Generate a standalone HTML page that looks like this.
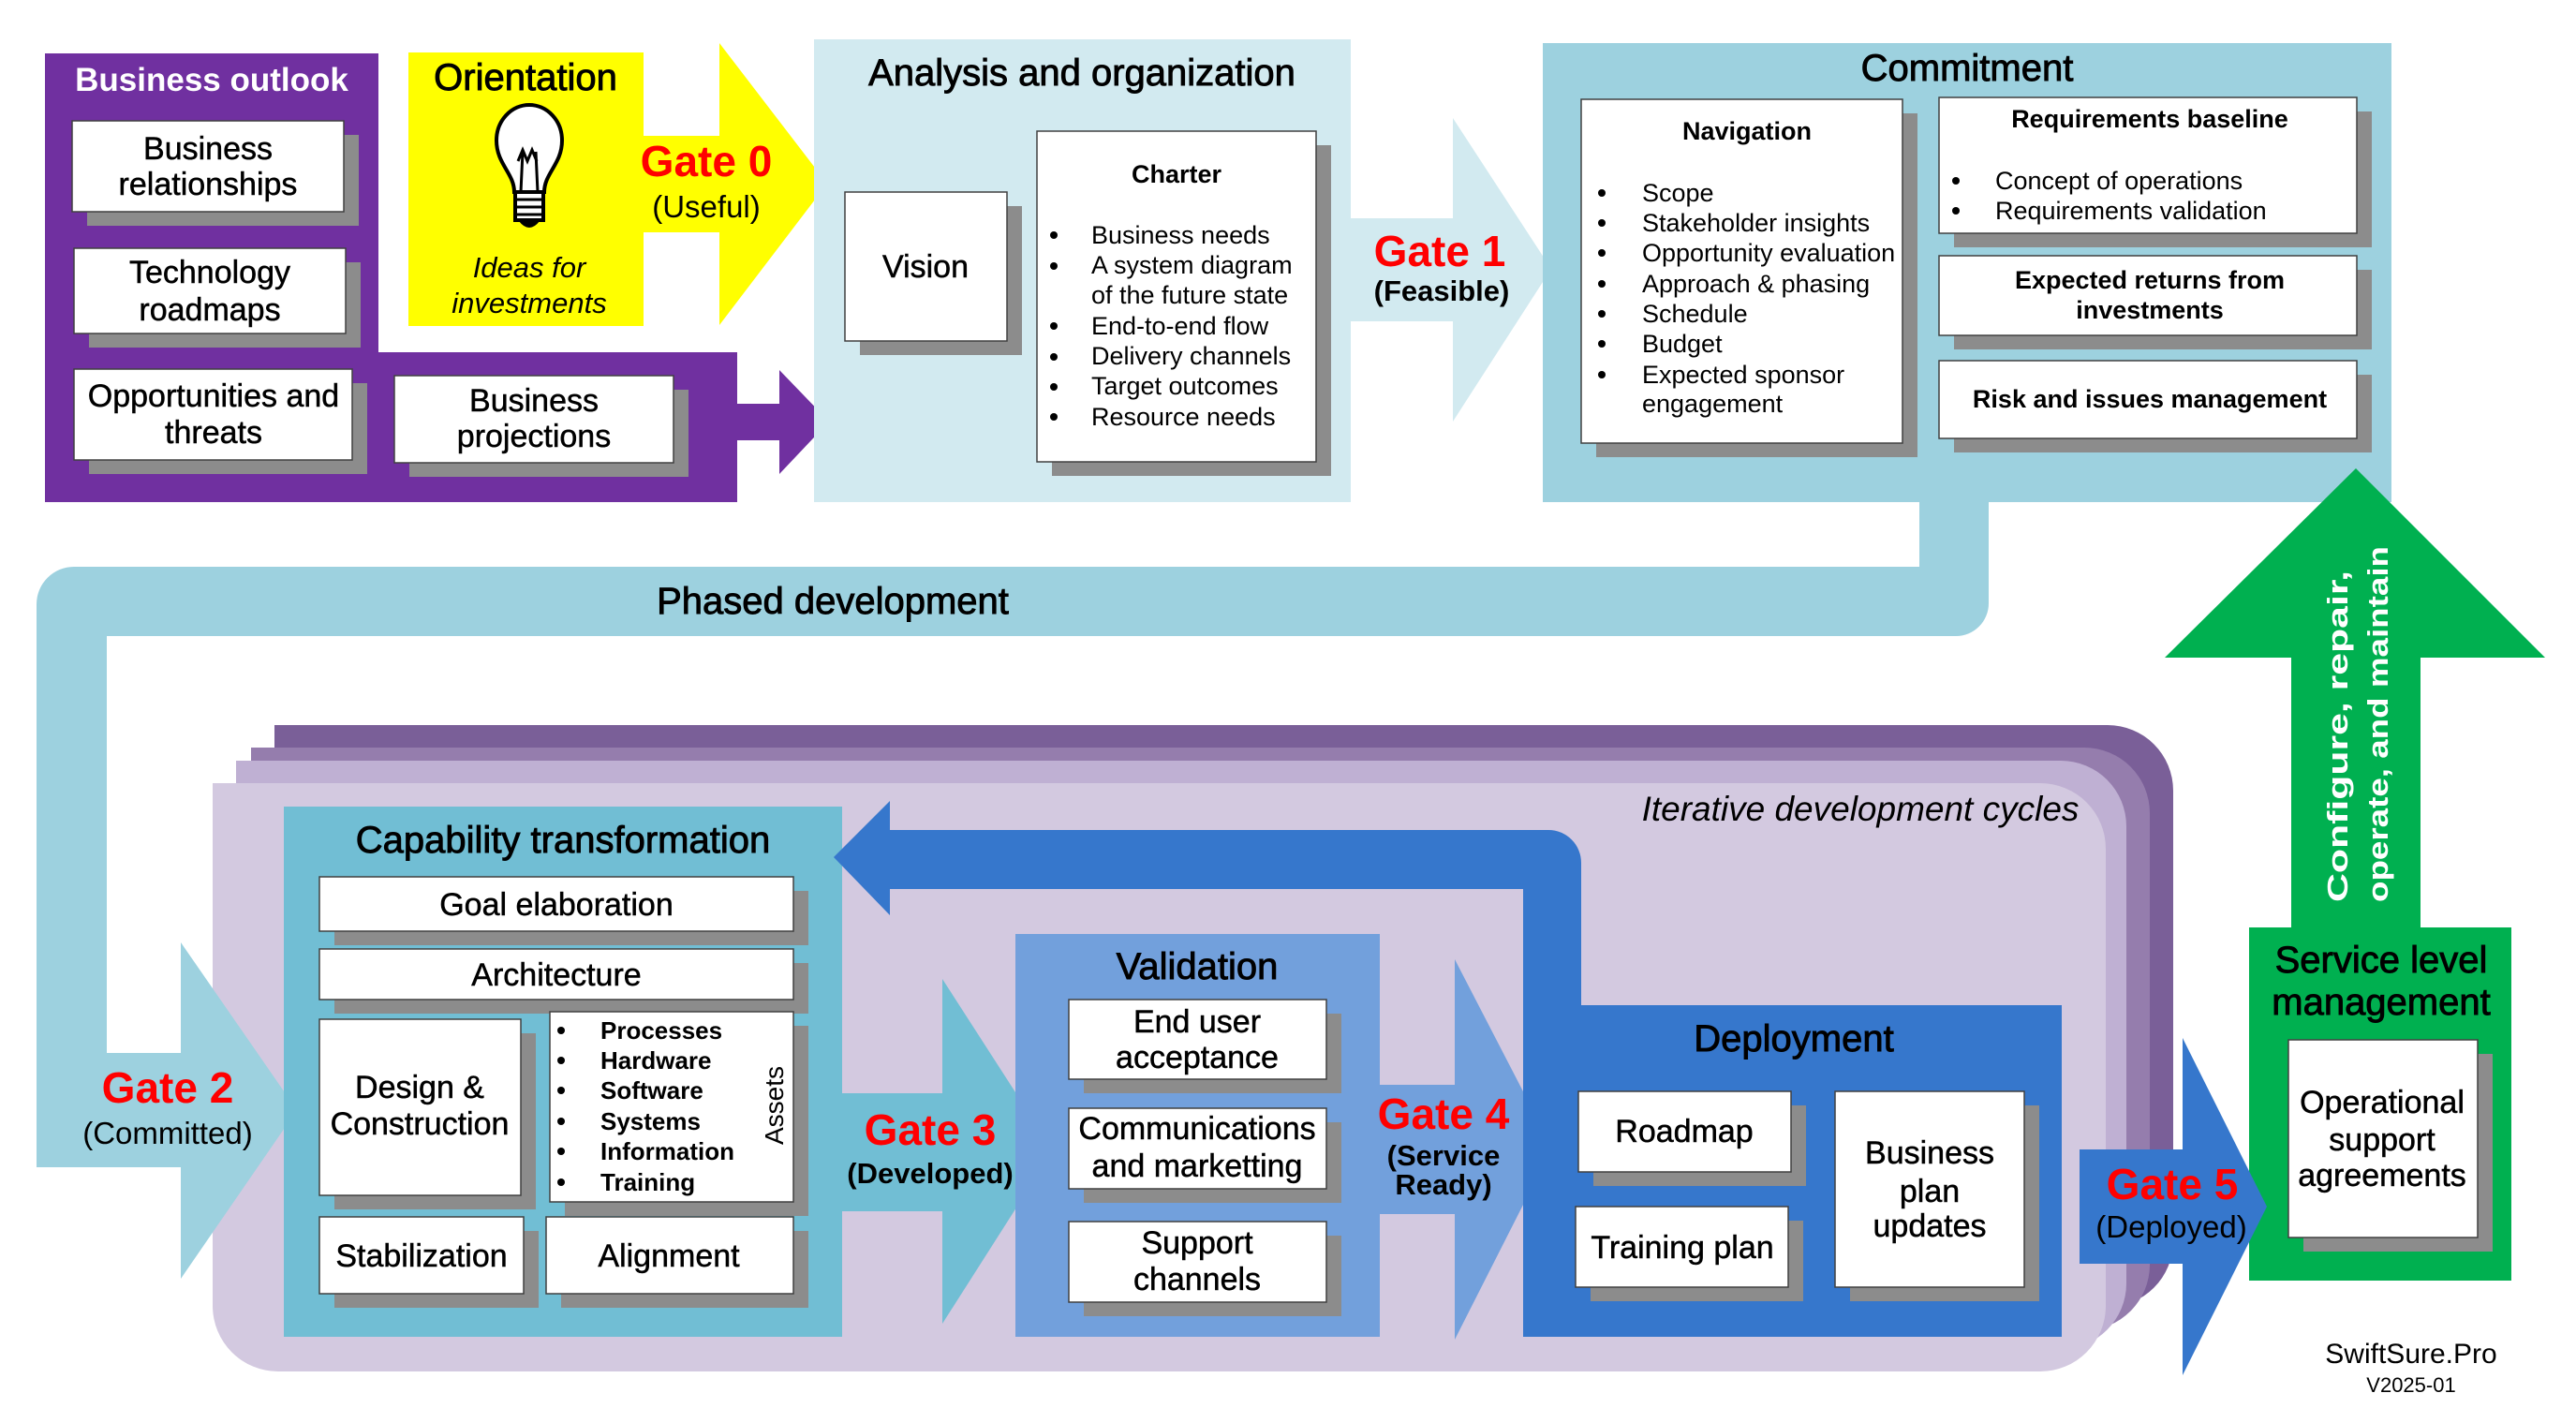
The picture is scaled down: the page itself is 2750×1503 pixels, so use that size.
<!DOCTYPE html>
<html><head><meta charset="utf-8"><style>
html,body{margin:0;padding:0;background:#fff;}
svg{display:block;}
text{font-family:"Liberation Sans",Arial,sans-serif;}
.t{font-size:34px;fill:#000;stroke:#000;stroke-width:0.5px;}
.ti{font-size:40px;fill:#000;stroke:#000;stroke-width:0.9px;}
.b{font-size:27px;fill:#000;}
.bb{font-size:27px;font-weight:bold;fill:#000;}
.g{font-size:46px;font-weight:bold;fill:#ff0000;}
.gs{font-size:33px;fill:#000;}
.gsb{font-size:31px;font-weight:bold;fill:#000;}
.sh{fill:#8c8c8c;}
.bx{fill:#fff;stroke:#404040;stroke-width:1.5;}
</style></head><body>
<svg width="2750" height="1503" viewBox="0 0 2750 1503" xmlns="http://www.w3.org/2000/svg">
<!-- Purple stack -->
<path d="M293,774 H2250 A70 70 0 0 1 2320,844 V1325 A70 70 0 0 1 2250,1395 H363 A70 70 0 0 1 293,1325 Z" fill="#7a5f98"/>
<path d="M268,798 H2225 A70 70 0 0 1 2295,868 V1350 A70 70 0 0 1 2225,1420 H338 A70 70 0 0 1 268,1350 Z" fill="#957dad"/>
<path d="M252,812 H2200 A70 70 0 0 1 2270,882 V1370 A70 70 0 0 1 2200,1440 H322 A70 70 0 0 1 252,1370 Z" fill="#bfb0d3"/>
<path d="M227,836 H2178 A70 70 0 0 1 2248,906 V1394 A70 70 0 0 1 2178,1464 H297 A70 70 0 0 1 227,1394 Z" fill="#d3c9e0"/>
<text x="1986" y="876" font-size="37" font-style="italic" text-anchor="middle" fill="#000">Iterative development cycles</text>

<!-- Phased development connector + Gate 2 -->
<path d="M2123,536 V644 A35 35 0 0 1 2088,679 H114 V1124 H193 V1006 L317,1185 L193,1365 V1246 H39 V645 A40 40 0 0 1 79,605 H2049 V536 Z" fill="#9dd1df"/>
<text class="ti" x="889" y="655" text-anchor="middle" font-size="39">Phased development</text>
<text class="g" x="179" y="1177" text-anchor="middle">Gate 2</text>
<text class="gs" x="179" y="1221" text-anchor="middle">(Committed)</text>

<!-- Business outlook -->
<path d="M48,57 H404 V376 H787 V536 H48 Z" fill="#7030a0"/>
<polygon points="787,431 832,431 832,395 885,450 832,506 832,470 787,470" fill="#7030a0"/>
<text x="226" y="97" font-size="35" font-weight="bold" fill="#fff" text-anchor="middle">Business outlook</text>
<rect class="sh" x="93" y="144" width="290" height="97"/><rect class="bx" x="77" y="129" width="290" height="97"/>
<text class="t" x="222" y="170" text-anchor="middle">Business</text><text class="t" x="222" y="208" text-anchor="middle">relationships</text>
<rect class="sh" x="95" y="280" width="290" height="91"/><rect class="bx" x="79" y="265" width="290" height="91"/>
<text class="t" x="224" y="302" text-anchor="middle">Technology</text><text class="t" x="224" y="342" text-anchor="middle">roadmaps</text>
<rect class="sh" x="95" y="409" width="297" height="97"/><rect class="bx" x="79" y="394" width="297" height="97"/>
<text class="t" x="228" y="434" text-anchor="middle">Opportunities and</text><text class="t" x="228" y="473" text-anchor="middle">threats</text>
<rect class="sh" x="437" y="416" width="298" height="93"/><rect class="bx" x="421" y="401" width="298" height="93"/>
<text class="t" x="570" y="439" text-anchor="middle">Business</text><text class="t" x="570" y="477" text-anchor="middle">projections</text>

<!-- Orientation -->
<rect x="436" y="56" width="251" height="292" fill="#ffff00"/>
<polygon points="687,145 768,145 768,46 883,196 768,347 768,248 687,248" fill="#ffff00"/>
<text class="ti" x="561" y="96" text-anchor="middle">Orientation</text>
<path d="M549,205 C549,185 530,175 530,150 A35 38 0 1 1 600,150 C600,175 581,185 581,205 Z" fill="#fff" stroke="#000" stroke-width="4"/>
<path d="M553,172 L558,160 L563,172 L568,160 L573,172 M558,162 L556,205 M572,162 L574,205" fill="none" stroke="#000" stroke-width="3"/>
<rect x="550" y="205" width="30" height="30" fill="#fff" stroke="#000" stroke-width="4"/>
<path d="M550,213 H580 M550,221 H580 M550,229 H580" stroke="#000" stroke-width="3"/>
<path d="M555,235 Q565,248 575,235" fill="#000" stroke="#000" stroke-width="3"/>
<text x="565" y="296" font-size="31" font-style="italic" text-anchor="middle">Ideas for</text>
<text x="565" y="334" font-size="31" font-style="italic" text-anchor="middle">investments</text>
<text class="g" x="754" y="188" text-anchor="middle">Gate 0</text>
<text class="gs" x="754" y="232" text-anchor="middle">(Useful)</text>

<!-- Analysis -->
<rect x="869" y="42" width="573" height="494" fill="#d2eaf0"/>
<polygon points="1442,233 1551,233 1551,126 1656,287 1551,450 1551,343 1442,343" fill="#d2eaf0"/>
<text class="ti" x="1155" y="91" text-anchor="middle">Analysis and organization</text>
<rect class="sh" x="918" y="220" width="173" height="159"/><rect class="bx" x="902" y="205" width="173" height="159"/>
<text class="t" x="988" y="296" text-anchor="middle">Vision</text>
<rect class="sh" x="1123" y="155" width="298" height="353"/><rect class="bx" x="1107" y="140" width="298" height="353"/>
<text class="bb" x="1256" y="195" text-anchor="middle">Charter</text>
<g class="b">
<text x="1165" y="260">Business needs</text><text x="1165" y="292">A system diagram</text><text x="1165" y="324">of the future state</text>
<text x="1165" y="357">End-to-end flow</text><text x="1165" y="389">Delivery channels</text><text x="1165" y="421">Target outcomes</text><text x="1165" y="454">Resource needs</text>
</g>
<g fill="#000"><circle cx="1125" cy="251" r="4"/><circle cx="1125" cy="284" r="4"/><circle cx="1125" cy="348" r="4"/><circle cx="1125" cy="381" r="4"/><circle cx="1125" cy="413" r="4"/><circle cx="1125" cy="445" r="4"/></g>
<text class="g" x="1537" y="284" text-anchor="middle">Gate 1</text>
<text class="gsb" x="1539" y="321" text-anchor="middle">(Feasible)</text>

<!-- Commitment -->
<rect x="1647" y="46" width="906" height="490" fill="#9dd1df"/>
<text class="ti" x="2100" y="86" text-anchor="middle">Commitment</text>
<rect class="sh" x="1704" y="121" width="343" height="367"/><rect class="bx" x="1688" y="106" width="343" height="367"/>
<text class="bb" x="1865" y="149" text-anchor="middle">Navigation</text>
<g class="b">
<text x="1753" y="215">Scope</text><text x="1753" y="247">Stakeholder insights</text><text x="1753" y="279">Opportunity evaluation</text>
<text x="1753" y="312">Approach &amp; phasing</text><text x="1753" y="344">Schedule</text><text x="1753" y="376">Budget</text>
<text x="1753" y="409">Expected sponsor</text><text x="1753" y="440">engagement</text>
</g>
<g fill="#000"><circle cx="1710" cy="206" r="4"/><circle cx="1710" cy="238" r="4"/><circle cx="1710" cy="270" r="4"/><circle cx="1710" cy="303" r="4"/><circle cx="1710" cy="335" r="4"/><circle cx="1710" cy="367" r="4"/><circle cx="1710" cy="400" r="4"/></g>
<rect class="sh" x="2086" y="119" width="446" height="145"/><rect class="bx" x="2070" y="104" width="446" height="145"/>
<text class="bb" x="2295" y="136" text-anchor="middle">Requirements baseline</text>
<text class="b" x="2130" y="202">Concept of operations</text><text class="b" x="2130" y="234">Requirements validation</text>
<circle cx="2088" cy="193" r="4"/><circle cx="2088" cy="225" r="4"/>
<rect class="sh" x="2086" y="288" width="446" height="85"/><rect class="bx" x="2070" y="273" width="446" height="85"/>
<text class="bb" x="2295" y="308" text-anchor="middle">Expected returns from</text><text class="bb" x="2295" y="340" text-anchor="middle">investments</text>
<rect class="sh" x="2086" y="400" width="446" height="83"/><rect class="bx" x="2070" y="385" width="446" height="83"/>
<text class="bb" x="2295" y="435" text-anchor="middle">Risk and issues management</text>

<!-- Green -->
<polygon points="2515,500 2717,702 2584,702 2584,990 2446,990 2446,702 2311,702" fill="#00b050"/>
<rect x="2401" y="990" width="280" height="377" fill="#00b050"/>
<text transform="translate(2506,963) rotate(-90)" font-family="'DejaVu Sans',sans-serif" font-size="31" font-weight="bold" fill="#fff" textLength="354" lengthAdjust="spacingAndGlyphs">Configure, repair,</text>
<text transform="translate(2549,963) rotate(-90)" font-family="'DejaVu Sans',sans-serif" font-size="31" font-weight="bold" fill="#fff" textLength="380" lengthAdjust="spacingAndGlyphs">operate, and maintain</text>
<text class="ti" x="2542" y="1038" text-anchor="middle" font-size="39">Service level</text>
<text class="ti" x="2542" y="1083" text-anchor="middle" font-size="39">management</text>
<rect class="sh" x="2459" y="1125" width="202" height="211"/><rect class="bx" x="2443" y="1110" width="202" height="211"/>
<text class="t" x="2543" y="1188" text-anchor="middle">Operational</text><text class="t" x="2543" y="1228" text-anchor="middle">support</text><text class="t" x="2543" y="1266" text-anchor="middle">agreements</text>

<!-- Capability transformation -->
<rect x="303" y="861" width="596" height="566" fill="#71bed4"/>
<polygon points="899,1167 1006,1167 1006,1045 1124,1228 1006,1413 1006,1293 899,1293" fill="#71bed4"/>
<text class="ti" x="601" y="910" text-anchor="middle" font-size="39">Capability transformation</text>
<rect class="sh" x="357" y="951" width="506" height="58"/><rect class="bx" x="341" y="936" width="506" height="58"/>
<text class="t" x="594" y="977" text-anchor="middle">Goal elaboration</text>
<rect class="sh" x="357" y="1028" width="506" height="54"/><rect class="bx" x="341" y="1013" width="506" height="54"/>
<text class="t" x="594" y="1052" text-anchor="middle">Architecture</text>
<rect class="sh" x="357" y="1103" width="215" height="188"/><rect class="bx" x="341" y="1088" width="215" height="188"/>
<text class="t" x="448" y="1172" text-anchor="middle">Design &amp;</text><text class="t" x="448" y="1211" text-anchor="middle">Construction</text>
<rect class="sh" x="603" y="1095" width="260" height="203"/><rect class="bx" x="587" y="1080" width="260" height="203"/>
<g font-size="26" font-weight="bold">
<text x="641" y="1109">Processes</text><text x="641" y="1141">Hardware</text><text x="641" y="1173">Software</text>
<text x="641" y="1206">Systems</text><text x="641" y="1238">Information</text><text x="641" y="1271">Training</text>
</g>
<g fill="#000"><circle cx="599" cy="1100" r="4"/><circle cx="599" cy="1132" r="4"/><circle cx="599" cy="1164" r="4"/><circle cx="599" cy="1197" r="4"/><circle cx="599" cy="1229" r="4"/><circle cx="599" cy="1262" r="4"/></g>
<text transform="translate(836,1180) rotate(-90)" font-size="28" text-anchor="middle">Assets</text>
<rect class="sh" x="357" y="1314" width="218" height="82"/><rect class="bx" x="341" y="1299" width="218" height="82"/>
<text class="t" x="450" y="1352" text-anchor="middle">Stabilization</text>
<rect class="sh" x="599" y="1314" width="264" height="82"/><rect class="bx" x="583" y="1299" width="264" height="82"/>
<text class="t" x="714" y="1352" text-anchor="middle">Alignment</text>
<text class="g" x="993" y="1222" text-anchor="middle">Gate 3</text>
<text class="gsb" x="993" y="1263" text-anchor="middle" font-size="32">(Developed)</text>

<!-- Validation -->
<rect x="1084" y="997" width="389" height="430" fill="#72a0dc"/>
<polygon points="1473,1158 1553,1158 1553,1024 1657,1225 1553,1430 1553,1296 1473,1296" fill="#72a0dc"/>
<text class="ti" x="1278" y="1045" text-anchor="middle">Validation</text>
<rect class="sh" x="1157" y="1082" width="275" height="85"/><rect class="bx" x="1141" y="1067" width="275" height="85"/>
<text class="t" x="1278" y="1102" text-anchor="middle">End user</text><text class="t" x="1278" y="1140" text-anchor="middle">acceptance</text>
<rect class="sh" x="1157" y="1198" width="275" height="86"/><rect class="bx" x="1141" y="1183" width="275" height="86"/>
<text class="t" x="1278" y="1216" text-anchor="middle">Communications</text><text class="t" x="1278" y="1256" text-anchor="middle">and marketting</text>
<rect class="sh" x="1157" y="1319" width="275" height="86"/><rect class="bx" x="1141" y="1304" width="275" height="86"/>
<text class="t" x="1278" y="1338" text-anchor="middle">Support</text><text class="t" x="1278" y="1377" text-anchor="middle">channels</text>
<text class="g" x="1541" y="1205" text-anchor="middle">Gate 4</text>
<text class="gsb" x="1541" y="1244" text-anchor="middle">(Service</text>
<text class="gsb" x="1541" y="1275" text-anchor="middle">Ready)</text>

<!-- Deployment + back arrow -->
<path d="M890,915 L950,855 L950,886 L1653,886 A35 35 0 0 1 1688,921 L1688,1073 L1626,1073 L1626,949 L950,949 L950,977 Z" fill="#3677cc"/>
<rect x="1626" y="1073" width="575" height="354" fill="#3677cc"/>
<text class="ti" x="1915" y="1122" text-anchor="middle">Deployment</text>
<rect class="sh" x="1701" y="1180" width="227" height="86"/><rect class="bx" x="1685" y="1165" width="227" height="86"/>
<text class="t" x="1798" y="1219" text-anchor="middle">Roadmap</text>
<rect class="sh" x="1698" y="1303" width="227" height="86"/><rect class="bx" x="1682" y="1288" width="227" height="86"/>
<text class="t" x="1796" y="1343" text-anchor="middle">Training plan</text>
<rect class="sh" x="1975" y="1180" width="202" height="209"/><rect class="bx" x="1959" y="1165" width="202" height="209"/>
<text class="t" x="2060" y="1242" text-anchor="middle">Business</text><text class="t" x="2060" y="1283" text-anchor="middle">plan</text><text class="t" x="2060" y="1320" text-anchor="middle">updates</text>

<!-- Gate 5 -->
<polygon points="2220,1227 2330,1227 2330,1108 2420,1288 2330,1468 2330,1349 2220,1349" fill="#3677cc"/>
<text class="g" x="2319" y="1280" text-anchor="middle">Gate 5</text>
<text class="gs" x="2318" y="1321" text-anchor="middle">(Deployed)</text>

<text x="2574" y="1455" font-size="30" text-anchor="middle">SwiftSure.Pro</text>
<text x="2574" y="1486" font-size="22" text-anchor="middle">V2025-01</text>
</svg>
</body></html>
